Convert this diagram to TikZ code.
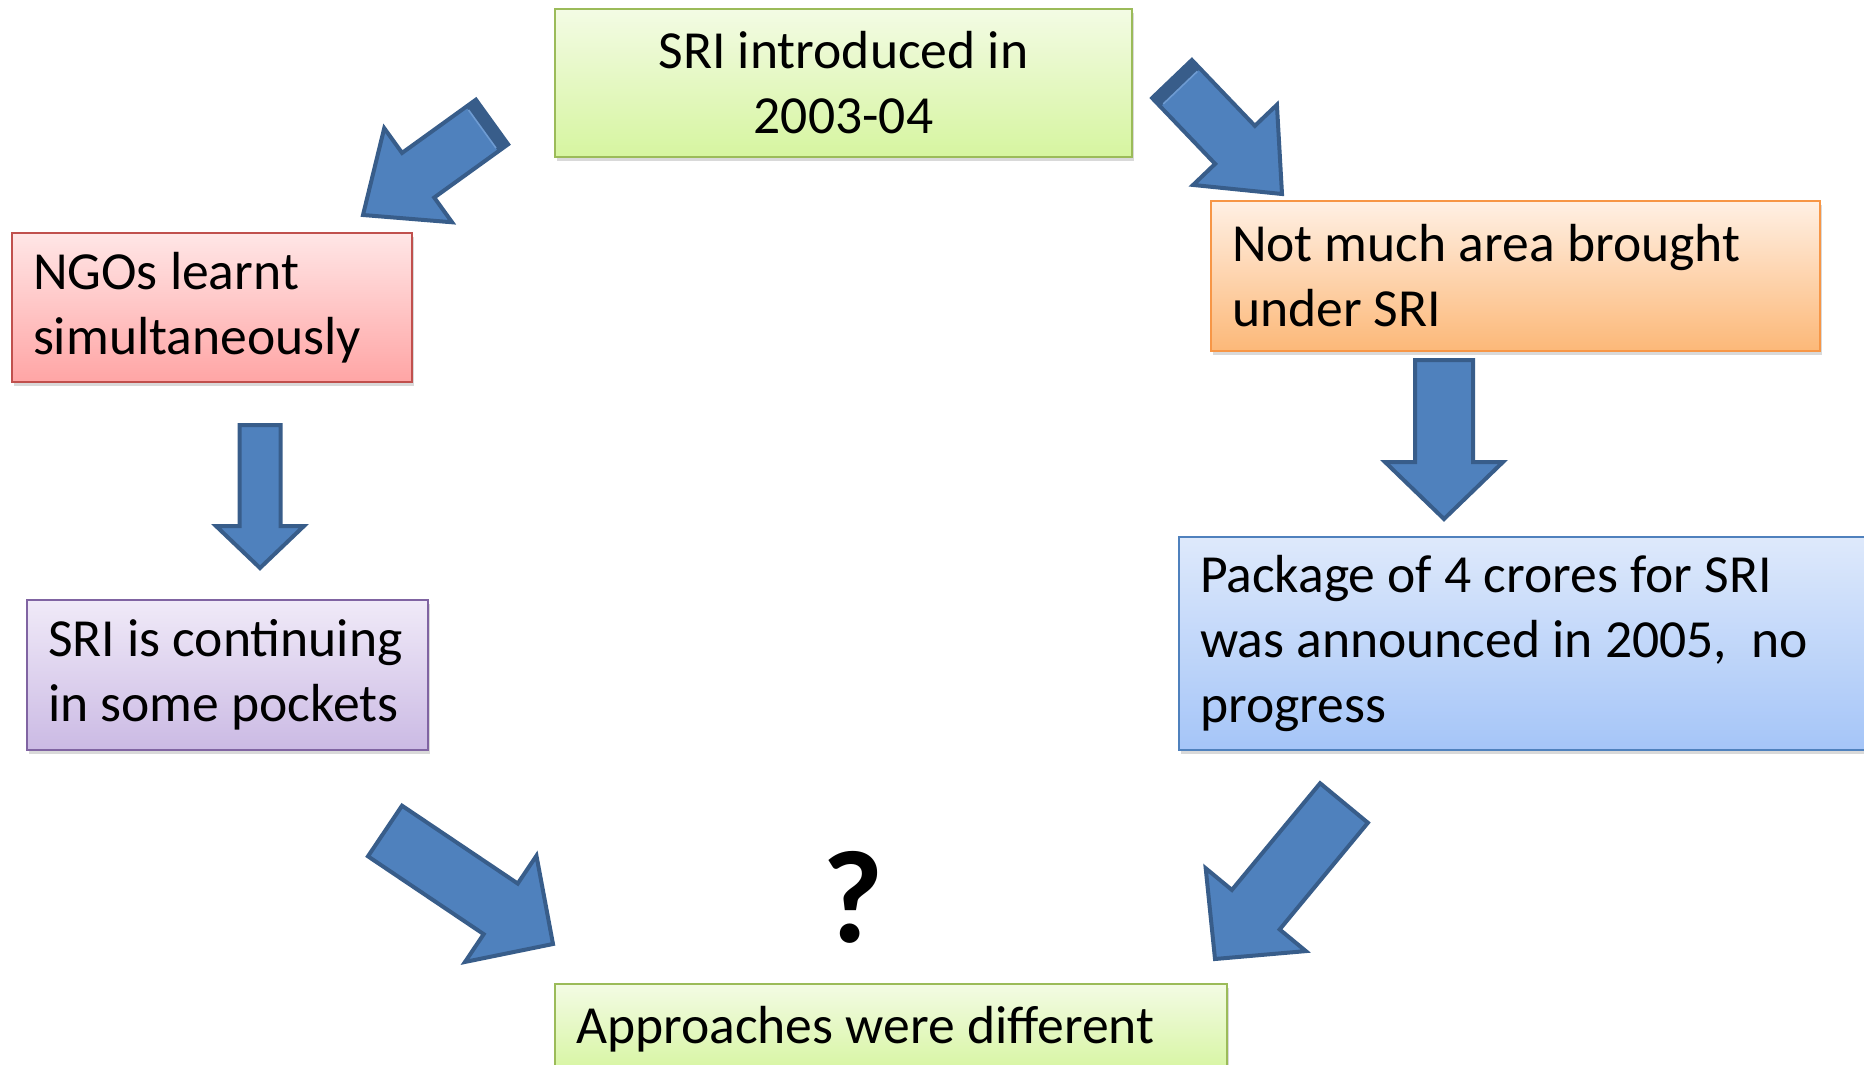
\documentclass[tikz,border=0pt]{standalone}
\usepackage{fontspec}
\setmainfont{Carlito}
\usetikzlibrary{calc,shadows}
\hyphenpenalty=10000

\definecolor{arrowfill}{RGB}{79,129,189}
\definecolor{arrowline}{RGB}{56,93,138}
\definecolor{arrowlight}{RGB}{110,155,210}
\definecolor{greenline}{RGB}{155,187,89}
\definecolor{greentop}{RGB}{243,251,228}
\definecolor{greenbot}{RGB}{214,245,160}
\definecolor{redline}{RGB}{192,80,77}
\definecolor{redtop}{RGB}{255,230,230}
\definecolor{redbot}{RGB}{255,165,165}
\definecolor{orangeline}{RGB}{247,150,70}
\definecolor{orangetop}{RGB}{255,240,228}
\definecolor{orangebot}{RGB}{252,184,120}
\definecolor{purpleline}{RGB}{128,100,162}
\definecolor{purpletop}{RGB}{240,234,248}
\definecolor{purplebot}{RGB}{203,186,228}
\definecolor{blueline}{RGB}{79,129,189}
\definecolor{bluetop}{RGB}{222,233,251}
\definecolor{bluebot}{RGB}{165,197,248}

\newcommand{\boxfont}{\fontsize{26.8pt}{32.5pt}\selectfont}

% fat arrow from (#1-tail) to (#1-tip): body half width, head half width, head length
\newcommand{\blockarrow}[4]{%
  \coordinate (#1-neck) at ($(#1-tip)!#4!(#1-tail)$);
  \draw[fat] ($(#1-tail)!#2!90:(#1-tip)$) -- ($(#1-neck)!#2!-90:(#1-tail)$)
    -- ($(#1-neck)!#3!-90:(#1-tail)$) -- (#1-tip)
    -- ($(#1-neck)!#3!90:(#1-tail)$) -- ($(#1-neck)!#2!90:(#1-tail)$)
    -- ($(#1-tail)!#2!-90:(#1-tip)$) -- cycle;
}
% dark end of a fat arrow
\newcommand{\arrowend}[2]{%
  \coordinate (#1-band) at ($(#1-tail)!6pt!(#1-tip)$);
  \fill[arrowline] ($(#1-tail)!#2!90:(#1-tip)$) -- ($(#1-band)!#2!90:(#1-tip)$)
    -- ($(#1-band)!#2!-90:(#1-tip)$) -- ($(#1-tail)!#2!-90:(#1-tip)$) -- cycle;
  \draw[arrowlight, line width=0.8pt] ($(#1-band)!#2-2pt!90:(#1-tip)$) -- ($(#1-band)!#2-2pt!-90:(#1-tip)$);
}

\begin{document}
\begin{tikzpicture}[x=0.5pt,y=0.5pt,yscale=-1,
  box/.style={draw, line width=1pt, rectangle, inner xsep=10.5pt, inner ysep=0pt,
    align=flush left, font=\boxfont,
    drop shadow={shadow xshift=1pt, shadow yshift=-2pt, opacity=0.3}},
  fat/.style={draw=arrowline, fill=arrowfill, line width=2pt, line join=miter}]
\useasboundingbox (0,0) rectangle (1864,1065);

% Text Node
\node (start) [box, draw=greenline, top color=greentop, bottom color=greenbot,
  text width=267.5pt, minimum height=73.75pt, align=flush center] at (843.5,83)
  {SRI introduced in\\2003-04};
% Text Node
\node (ngos) [box, draw=redline, top color=redtop, bottom color=redbot,
  text width=179pt, minimum height=74.5pt] at (212,307.5)
  {NGOs learnt\\simultaneously};
% Text Node
\node (area) [box, draw=orangeline, top color=orangetop, bottom color=orangebot,
  text width=283.5pt, minimum height=75pt] at (1515.5,276)
  {Not much area brought\\under SRI};
% Text Node
\node (pockets) [box, draw=purpleline, top color=purpletop, bottom color=purplebot,
  text width=179.5pt, minimum height=75pt] at (227.5,675)
  {SRI is continuing\\in some pockets};
% Text Node
\node (package) [box, draw=blueline, top color=bluetop, bottom color=bluebot,
  text width=339.5pt, minimum height=106.5pt] at (1539.5,643.5)
  {Package of 4 crores for SRI\\was announced in 2005,~~no\\progress};
% Text Node
\node (result) [box, draw=greenline, top color=greentop, bottom color=greenbot,
  text width=315pt, minimum height=45pt] at (891,1029)
  {Approaches were different};
% Text Node
\node (query) [inner sep=0pt, font=\fontsize{66pt}{66pt}\selectfont\bfseries] at (853,897) {?};

%Block Arrows
\coordinate (a1-tail) at (492,122);
\coordinate (a1-tip) at (363,215);
\blockarrow{a1}{13.75pt}{29pt}{34pt}
\arrowend{a1}{13.75pt}

\coordinate (a2-tail) at (1172,79);
\coordinate (a2-tip) at (1282,194);
\blockarrow{a2}{13.75pt}{29pt}{34pt}
\arrowend{a2}{13.75pt}

\coordinate (a3-tail) at (260,425);
\coordinate (a3-tip) at (260,568);
\blockarrow{a3}{10.25pt}{22pt}{21pt}

\coordinate (a4-tail) at (1444,360);
\coordinate (a4-tip) at (1444,519);
\blockarrow{a4}{14.5pt}{29.5pt}{28.5pt}

\coordinate (a5-tail) at (385,831);
\coordinate (a5-tip) at (553,944);
\blockarrow{a5}{15.25pt}{32pt}{31.5pt}

\coordinate (a6-tail) at (1344,803);
\coordinate (a6-tip) at (1215,959);
\blockarrow{a6}{15.5pt}{32.5pt}{32pt}

\end{tikzpicture}
\end{document}
